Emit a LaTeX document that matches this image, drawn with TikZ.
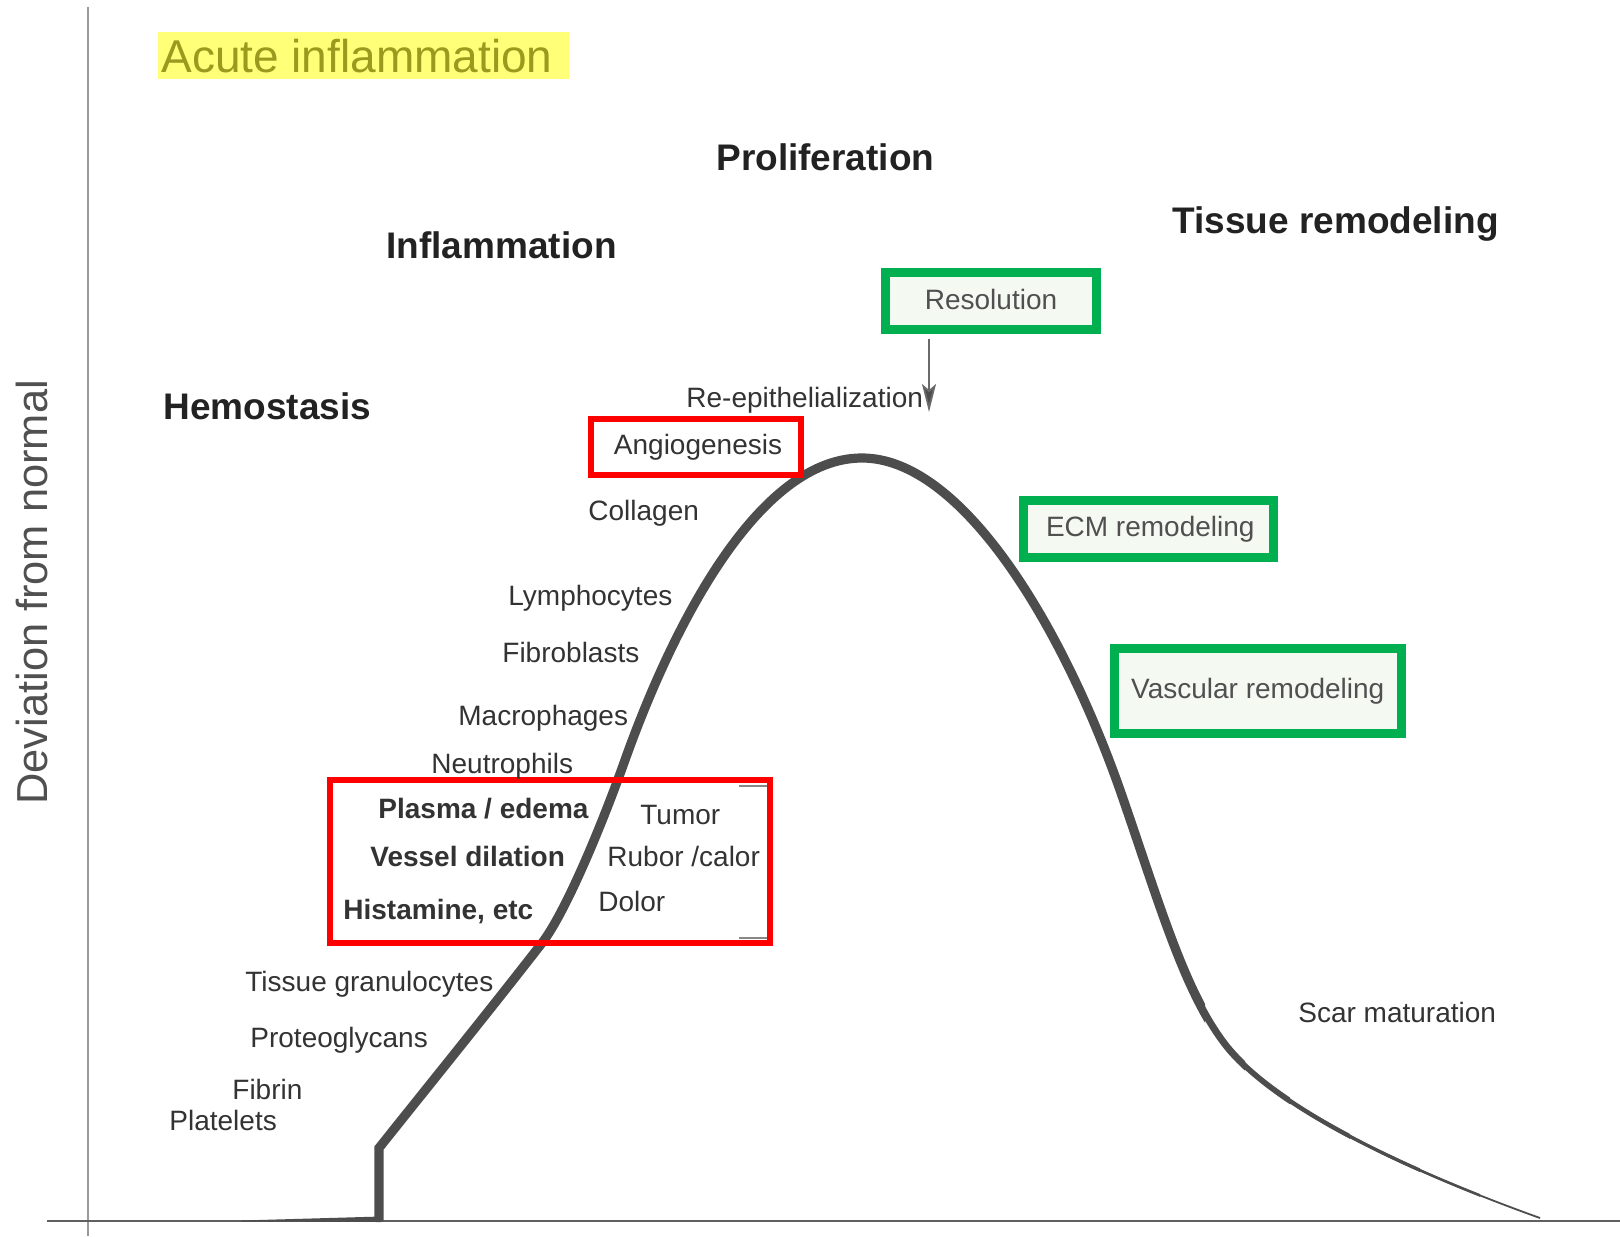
\documentclass[tikz,border=0pt]{standalone}
\usepackage{fontspec}
\setmainfont{Liberation Sans}
\usetikzlibrary{arrows.meta}
\definecolor{curvecol}{HTML}{4D4D4D}
\definecolor{boxgreen}{HTML}{00B050}
\definecolor{boxred}{HTML}{FF0000}
\definecolor{gfill}{HTML}{F4F9F2}
\definecolor{labcol}{HTML}{333333}
\definecolor{headcol}{HTML}{222222}
\definecolor{gtext}{HTML}{505050}
\definecolor{hilite}{HTML}{FFFF78}
\definecolor{olivetext}{HTML}{9A9A1E}
\definecolor{axisv}{HTML}{9A9A9A}
\definecolor{axish}{HTML}{606060}
\definecolor{brk}{HTML}{888888}
\definecolor{arrcol}{HTML}{6A6A6A}
\begin{document}
\begin{tikzpicture}[x=0.5pt,y=-0.5pt,
  lbl/.style={anchor=base west, inner sep=0pt, text=labcol, font=\fontsize{14pt}{16pt}\selectfont},
  bld/.style={anchor=base west, inner sep=0pt, text=labcol, font=\fontsize{14pt}{16pt}\selectfont\bfseries},
  head/.style={anchor=base west, inner sep=0pt, text=headcol, font=\fontsize{18.5pt}{22pt}\selectfont\bfseries},
  gbox/.style={draw=boxgreen, line width=4.5pt, fill=gfill, text=gtext, inner sep=0pt, font=\fontsize{14pt}{16pt}\selectfont},
  rbox/.style={draw=boxred, line width=3pt, inner sep=0pt, text=labcol, font=\fontsize{14pt}{16pt}\selectfont},
  arr/.style={draw=arrcol, line width=0.9pt, -{Stealth[length=14pt,width=7pt,inset=3pt,fill=curvecol]}},
]
\useasboundingbox (0,0) rectangle (1620,1236);
\fill[white] (0,0) rectangle (1620,1236);

% highlight and title
\fill[hilite] (158,32) rectangle (569,79);
\node[anchor=base west, inner sep=0pt, text=olivetext, font=\fontsize{23pt}{26pt}\selectfont] (acute) at (161,72.5) {Acute inflammation};

% axes
\draw[axisv, line width=1.3pt] (88,7) -- (88,1236);
\draw[axish, line width=1.2pt] (47,1221) -- (1620,1221);

% base taper
\fill[curvecol] (241,1220.5) -- (381,1216.5) -- (381,1222) -- (241,1221.5) -- cycle;

% main curve with tapering tail
\foreach \xc/\w in {1620/0.9pt, 1480/1.3pt, 1420/1.7pt, 1350/2.2pt, 1290/2.8pt, 1245/3.5pt, 1205/4.6pt} {
  \begin{scope}
    \clip (0,0) rectangle (\xc,1236);
    \draw[curvecol, line width=\w, line cap=butt, line join=miter]
      (379,1221) -- (379,1148)
      .. controls (430,1084) and (490,1010) .. (542,943)
      .. controls (565,913) and (600,830) .. (625,760)
      .. controls (675,620) and (760,458) .. (862,458)
      .. controls (960,458) and (1060,620) .. (1120,790)
      .. controls (1160,905) and (1185,995) .. (1228,1048)
      .. controls (1282,1113) and (1420,1175) .. (1540,1218);
  \end{scope}
}

% bracket
\draw[brk, line width=1pt] (739,786) -- (770,786) -- (770,938) -- (739,938);

% headings
\node[head] (prolif) at (716,170) {Proliferation};
\node[head] (tissue) at (1172,233) {Tissue remodeling};
\node[head] (inflam) at (386,258) {Inflammation};
\node[head] (hemo) at (163,419) {Hemostasis};

% boxes
\node[gbox, minimum width=105.5pt, minimum height=28.5pt] (res) at (991,301) {\raisebox{1.5pt}{Resolution}};
\node[gbox, minimum width=124.75pt, minimum height=28.5pt] (ecm) at (1148.25,529) {\hspace{2pt}ECM remodeling};
\node[gbox, minimum width=143.75pt, minimum height=42.5pt] (vasc) at (1257.75,691) {Vascular remodeling\hspace{2pt}};
\node[rbox, minimum width=105pt, minimum height=28pt] (ang) at (696,447) {\hspace{2pt}\raisebox{1pt}{Angiogenesis}};
\node[rbox, minimum width=220pt, minimum height=81.5pt] (bigred) at (550,861.5) {};

% arrow
\coordinate (tip) at (929,412);
\draw[arr, shorten <=2.25pt] (res.south -| tip) -- (tip);

% labels
\node[lbl] (reep) at (686,407) {Re-epithelialization};
\node[lbl] (coll) at (588,520) {Collagen};
\node[lbl] (lymph) at (508,605) {Lymphocytes};
\node[lbl] (fibro) at (502,662) {Fibroblasts};
\node[lbl] (macro) at (458,725) {Macrophages};
\node[lbl] (neut) at (431,773) {Neutrophils};
\node[bld] (plasma) at (378,818) {Plasma / edema};
\node[bld] (vessel) at (370,866) {Vessel dilation};
\node[bld] (hist) at (343,919) {Histamine, etc};
\node[lbl] (tumor) at (640,824) {Tumor};
\node[lbl] (rubor) at (607,866) {Rubor /calor};
\node[lbl] (dolor) at (598,911) {Dolor};
\node[lbl] (tgran) at (245,991) {Tissue granulocytes};
\node[lbl] (proteo) at (250,1047) {Proteoglycans};
\node[lbl] (fibrin) at (232,1099) {Fibrin};
\node[lbl] (plate) at (169,1130) {Platelets};
\node[lbl] (scar) at (1298,1022) {Scar maturation};

% y axis label
\node[rotate=90, anchor=base west, inner sep=0pt, text=gtext, font=\fontsize{21.7pt}{26pt}\selectfont] (dev) at (47,805) {Deviation from normal};
\end{tikzpicture}
\end{document}
